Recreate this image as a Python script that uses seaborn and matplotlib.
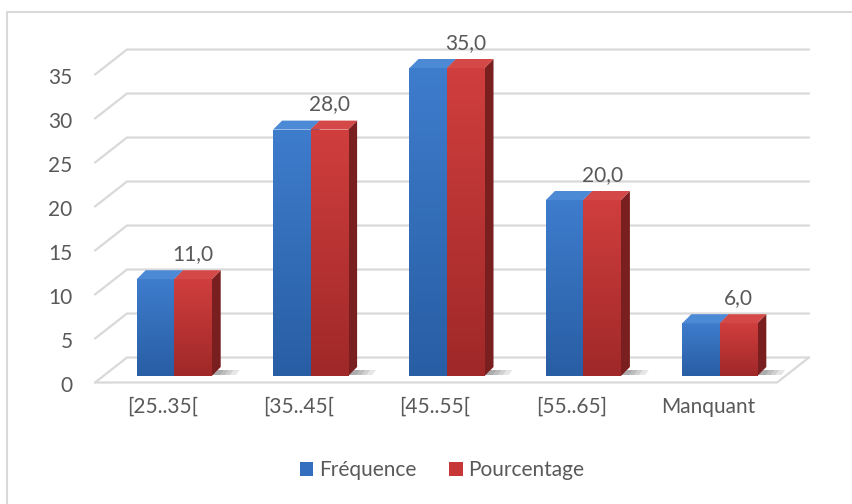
import numpy as np
import pandas as pd
import matplotlib
matplotlib.use('Agg')
import matplotlib.pyplot as plt
import seaborn as sns
from matplotlib.patches import Polygon
from matplotlib.lines import Line2D
from matplotlib.transforms import IdentityTransform, ScaledTranslation

# Données
categories = ['[25..35[', '[35..45[', '[45..55[', '[55..65]', 'Manquant']
frequence = [11, 28, 35, 20, 6]
pourcentage = [11.0, 28.0, 35.0, 20.0, 6.0]
series = ['Fréquence', 'Pourcentage']
y_ticks = [0, 5, 10, 15, 20, 25, 30, 35]

# Styles
txt_color = '#595959'
grid_color = '#d9d9d9'
front = {'Fréquence': ((62, 124, 204), (40, 94, 164)),
         'Pourcentage': ((208, 62, 62), (160, 40, 40))}
top_col = {'Fréquence': '#4d8ad6', 'Pourcentage': '#d54848'}
side_col = {'Fréquence': '#24508c', 'Pourcentage': '#7a1f1f'}

df = pd.DataFrame({
    'Catégorie': categories * 2,
    'Valeur': frequence + pourcentage,
    'Série': [series[0]] * len(categories) + [series[1]] * len(categories),
})

sns.set_style('white')
plt.rcParams['font.family'] = ['Lato', 'DejaVu Sans']

W, H = 853, 504
fig = plt.figure(figsize=(W / 100, H / 100), dpi=100)
ax = fig.add_axes([106 / W, 1 - 376 / H, 682 / W, 308 / H])

sns.barplot(data=df, x='Catégorie', y='Valeur', hue='Série',
            palette=['#346ebe', '#c83737'], saturation=1, width=0.55,
            errorbar=None, linewidth=0, ax=ax, zorder=2)

ax.set_xlim(-0.5, len(categories) - 0.5)
ax.set_ylim(0, 35)
ax.set_yticks(y_ticks)
ax.set_xlabel('')
ax.set_ylabel('')
ax.patch.set_visible(False)
for s in ax.spines.values():
    s.set_visible(False)
ax.tick_params(axis='both', length=0, labelsize=15, labelcolor=txt_color)
ax.tick_params(axis='y', pad=24)
ax.tick_params(axis='x', pad=15)
for lab in ax.get_yticklabels():
    lab.set_transform(lab.get_transform() + ScaledTranslation(0, -0.08, fig.dpi_scale_trans))
for lab in ax.get_xticklabels():
    lab.set_transform(lab.get_transform() + ScaledTranslation(-0.12, 0, fig.dpi_scale_trans))


def disp(x, y):
    return ax.transData.transform((x, y))


def poly(pts, **kw):
    ax.add_patch(Polygon(pts, closed=True, lw=0, transform=IdentityTransform(),
                         clip_on=False, **kw))


# Quadrillage sur la paroi du fond (effet 3D)
depth = (32, 25)
x_left, x_right = -0.5, len(categories) - 0.5
for v in y_ticks:
    fx, fy = disp(x_left, v)
    fx, fy = fx - 11, fy - 6.5
    bx1 = disp(x_right, v)[0] - 11 + depth[0]
    pts = [(fx, fy), (fx + depth[0], fy + depth[1]), (bx1, fy + depth[1])]
    ax.add_line(Line2D([p[0] for p in pts], [p[1] for p in pts], color=grid_color,
                       lw=1.6, transform=IdentityTransform(), clip_on=False, zorder=0.5))
# bord avant du sol
fx0, fy0 = disp(x_left, 0)
fx1 = disp(x_right, 0)[0]
pts = [(fx0 - 11, fy0 - 6.5), (fx1 - 11, fy0 - 6.5), (fx1 - 11 + depth[0], fy0 - 6.5 + depth[1])]
ax.add_line(Line2D([p[0] for p in pts], [p[1] for p in pts], color=grid_color,
                   lw=1.6, transform=IdentityTransform(), clip_on=False, zorder=0.5))

# Faces des barres : dégradé, dessus, côté et ombre
bar_depth = np.array((9, 9))
for cont, serie in zip(ax.containers, series):
    c_top, c_bot = front[serie]
    grad = np.linspace(0, 1, 64)[:, None, None]
    img = (np.array(c_top)[None, None, :] * (1 - grad) + np.array(c_bot)[None, None, :] * grad) / 255
    for patch in cont.patches:
        x0, w, h = patch.get_x(), patch.get_width(), patch.get_height()
        im = ax.imshow(img, extent=[x0, x0 + w, 0, h], aspect='auto', origin='upper',
                       zorder=2.1, interpolation='bilinear')
        im.set_clip_path(patch)
        p0, p1, p1b = disp(x0, h), disp(x0 + w, h), disp(x0 + w, 0)
        d = bar_depth
        # ombre floue au sol, à droite de la barre
        for k, L in enumerate([24, 18, 13, 8]):
            sh = [p1b + (0, 1), p1b + (L, 1), p1b + (L + 4, 6), p1b + (6, 6)]
            poly(sh, facecolor='#404040', alpha=0.13, zorder=1.5 + k * 0.01)
        poly([p1b, p1, p1 + d, p1b + d], facecolor=side_col[serie], zorder=1.8)
        poly([p0, p1, p1 + d, p0 + d], facecolor=top_col[serie], zorder=2.2)

ax.set_xlim(-0.5, len(categories) - 0.5)
ax.set_ylim(0, 35)

# Étiquettes de valeurs (série Pourcentage)
ax.bar_label(ax.containers[1], labels=[f'{v:.1f}'.replace('.', ',') for v in pourcentage],
             padding=11, fontsize=15, color=txt_color, zorder=3)

sns.move_legend(ax, 'center', bbox_to_anchor=(442 / W, 34 / H), bbox_transform=fig.transFigure,
                ncol=2, frameon=False, title=None, fontsize=15, labelcolor=txt_color,
                handlelength=0.65, handleheight=0.65, handletextpad=0.25, columnspacing=1.6)

# cadre du graphique (seuls les bords haut et gauche sont visibles)
fig.add_artist(Line2D([7.5 / W, 7.5 / W, 1], [0, 1 - 11.5 / H, 1 - 11.5 / H],
                      transform=fig.transFigure, color=grid_color, lw=1.5))

fig.savefig('out.png', dpi=100)
